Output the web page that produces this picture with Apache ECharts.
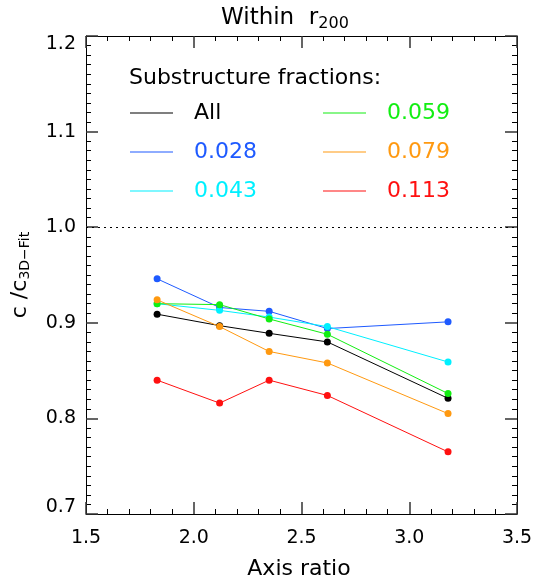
<!DOCTYPE html>
<html lang="en">
<head>
    <meta charset="UTF-8">
    <title>Within r200</title>
    <style>
        html,body{
            padding: 0;
            margin: 0;
            width: 100%;
            height: 100%;
            background: #fff;
        }
        .chart{
            width: 535px;
            height: 581px;
        }
    </style>
    <script src="https://cdn.jsdelivr.net/npm/echarts@6/dist/echarts.min.js"></script>
</head>
<body>
<div class="chart"></div>
<script>
    // axis ratio bins
    let axisRatio = [1.83, 2.12, 2.35, 2.62, 3.18];

    // c / c_3D-Fit for each substructure fraction
    let names = ['All', '0.028', '0.043', '0.059', '0.079', '0.113'];
    let fracAll = [0.909, 0.897, 0.889, 0.880, 0.821];
    let frac028 = [0.946, 0.916, 0.912, 0.894, 0.901];
    let frac043 = [0.920, 0.913, 0.906, 0.896, 0.859];
    let frac059 = [0.920, 0.919, 0.904, 0.888, 0.826];
    let frac079 = [0.924, 0.896, 0.870, 0.858, 0.805];
    let frac113 = [0.840, 0.816, 0.840, 0.824, 0.765];
    let values = [fracAll, frac028, frac043, frac059, frac079, frac113];
    let colors = ['#000000', '#1e5aff', '#00f0ff', '#12ee12', '#ff9910', '#ff1010'];

    let font = 'DejaVu Sans';

    let chart = echarts.init(document.querySelector('.chart'));

    let series = names.map((name, i) => {
        let s = {
            name: name,
            type: 'line',
            data: axisRatio.map((x, j) => [x, values[i][j]]),
            symbol: 'circle',
            symbolSize: 7,
            color: colors[i],
            lineStyle: {width: 1, color: colors[i]},
            itemStyle: {color: colors[i]},
            animation: false
        };
        if (i == 0) {
            // dotted reference line at 1.0
            s.markLine = {
                silent: true,
                symbol: 'none',
                label: {show: false},
                lineStyle: {type: [2, 4], color: '#000', width: 1},
                data: [{yAxis: 1.0}]
            };
        }
        return s;
    });

    let legendItem = i => ({name: names[i], textStyle: {color: colors[i]}});

    let legendBase = {
        orient: 'vertical',
        icon: 'rect',
        itemWidth: 43,
        itemHeight: 1,
        itemGap: 17,
        padding: 0,
        selectedMode: false,
        textStyle: {fontFamily: font, fontSize: 22, lineHeight: 22, padding: [0, 0, 0, 16]}
    };

    let tickAxisX = (pos, showLabel) => ({
        type: 'value',
        position: pos,
        min: 1.5,
        max: 3.5,
        interval: 0.5,
        axisLine: {show: true, onZero: false, lineStyle: {color: '#000', width: 1}},
        axisTick: {show: true, inside: true, length: 12, lineStyle: {color: '#333', width: 1.5}},
        minorTick: {show: true, splitNumber: 5, length: 5, lineStyle: {color: '#000', width: 1}},
        splitLine: {show: false},
        minorSplitLine: {show: false},
        axisLabel: {
            show: showLabel,
            margin: 15,
            color: '#000',
            fontFamily: font,
            fontSize: 19,
            formatter: v => v.toFixed(1)
        }
    });

    let tickAxisY = (pos, showLabel) => ({
        type: 'value',
        position: pos,
        min: 0.7,
        max: 1.2,
        interval: 0.1,
        axisLine: {show: true, onZero: false, lineStyle: {color: '#000', width: 1}},
        axisTick: {show: true, inside: true, length: 12, lineStyle: {color: '#333', width: 1.5}},
        minorTick: {show: true, splitNumber: 10, length: 5, lineStyle: {color: '#000', width: 1}},
        splitLine: {show: false},
        minorSplitLine: {show: false},
        axisLabel: {
            show: showLabel,
            margin: 10,
            color: '#000',
            fontFamily: font,
            fontSize: 19,
            formatter: v => {
                let t = v.toFixed(1);
                if (t == '1.2') return '{hi|' + t + '}';
                if (t == '0.7') return '{lo|' + t + '}';
                return t;
            },
            rich: {
                hi: {fontFamily: font, fontSize: 19, color: '#000', padding: [16, 0, 0, 0]},
                lo: {fontFamily: font, fontSize: 19, color: '#000', padding: [0, 0, 14, 0]}
            }
        }
    });

    let xBottom = tickAxisX('bottom', true);
    xBottom.name = 'Axis ratio';
    xBottom.nameLocation = 'middle';
    xBottom.nameGap = 44;
    xBottom.nameTextStyle = {color: '#000', fontFamily: font, fontSize: 22, padding: [0, 5, 0, 0]};

    let yLeft = tickAxisY('left', true);
    yLeft.name = '{a|c /c}{b|3D\u2212Fit}';
    yLeft.nameLocation = 'middle';
    yLeft.nameRotate = 90;
    yLeft.nameGap = 54;
    yLeft.nameTextStyle = {
        color: '#000',
        rich: {
            a: {fontFamily: font, fontSize: 22, color: '#000'},
            b: {fontFamily: font, fontSize: 14, color: '#000', padding: [10, 0, 0, 0]}
        }
    };

    let option = {
        backgroundColor: '#fff',
        animation: false,
        title: [{
            text: '{a|Within  r}{b|200}',
            left: 221,
            top: 4,
            padding: 0,
            textStyle: {
                fontWeight: 'normal',
                rich: {
                    a: {fontFamily: font, fontSize: 23, fontWeight: 'normal', color: '#000'},
                    b: {fontFamily: font, fontSize: 16, fontWeight: 'normal', color: '#000', padding: [12, 0, 0, 0]}
                }
            }
        }, {
            text: 'Substructure fractions:',
            left: 129,
            top: 67,
            padding: 0,
            textStyle: {fontFamily: font, fontSize: 22, fontWeight: 'normal', color: '#000'}
        }],
        legend: [
            Object.assign({}, legendBase, {left: 130, top: 102, data: [0, 1, 2].map(legendItem)}),
            Object.assign({}, legendBase, {left: 323, top: 102, data: [3, 4, 5].map(legendItem)})
        ],
        grid: {left: 86, right: 18, top: 36, bottom: 67, containLabel: false, outerBoundsMode: 'none'},
        xAxis: [xBottom, tickAxisX('top', false)],
        yAxis: [yLeft, tickAxisY('right', false)],
        series: series
    };

    chart.setOption(option);
</script>
</body>
</html>
